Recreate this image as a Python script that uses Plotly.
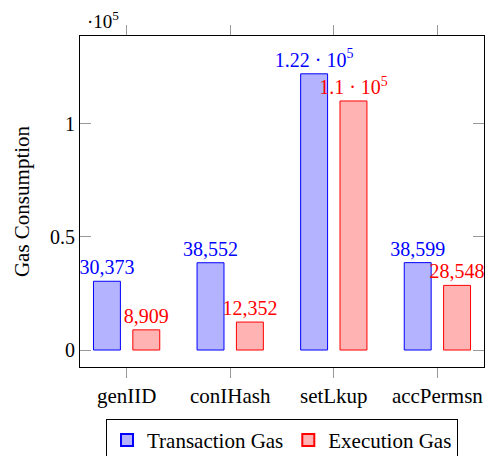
import plotly.graph_objects as go

# Gas consumed per contract operation
categories = ["genIID", "conIHash", "setLkup", "accPermsn"]
transaction_gas = [30373, 38552, 122000, 38599]
execution_gas = [8909, 12352, 110000, 28548]

y_tick_values = [0, 50000, 100000]
y_tick_labels = ["0", "0.5", "1"]

FONT = "Liberation Serif"
BLUE = "#0000ff"
RED = "#ff0000"


def value_label(v):
    """Thousands separator below 10^5, otherwise mantissa · 10^5."""
    if v >= 100000:
        mant = f"{v / 1e5:.2f}".rstrip("0").rstrip(".")
        return f"{mant} · 10<sup>5</sup>"
    return f"{v:,}"


x_pos = list(range(len(categories)))

fig = go.Figure()
fig.add_trace(go.Bar(
    name="Transaction Gas",
    x=x_pos, y=transaction_gas,
    width=0.26, offset=-0.32,
    marker=dict(color="rgb(179,179,255)", line=dict(color=BLUE, width=1)),
    text=[value_label(v) for v in transaction_gas],
    textposition="outside", constraintext="none", cliponaxis=False,
    textfont=dict(family=FONT, size=20, color=BLUE),
))
fig.add_trace(go.Bar(
    name="Execution Gas",
    x=x_pos, y=execution_gas,
    width=0.26, offset=0.06,
    marker=dict(color="rgb(255,179,179)", line=dict(color=RED, width=1)),
    text=[value_label(v) for v in execution_gas],
    textposition="outside", constraintext="none", cliponaxis=False,
    textfont=dict(family=FONT, size=20, color=RED),
))

fig.update_layout(
    width=488, height=456,
    margin=dict(l=80, r=4, t=36, b=89, autoexpand=False),
    barmode="overlay",
    plot_bgcolor="white", paper_bgcolor="white",
    font=dict(family=FONT, size=20, color="black"),
    showlegend=True,
    legend=dict(
        orientation="h",
        x=0.5, xanchor="center", y=-0.157, yanchor="top",
        bordercolor="black", borderwidth=1,
        font=dict(family=FONT, size=21, color="black"),
        itemsizing="constant",
    ),
    annotations=[dict(
        text="·10<sup>5</sup>", xref="paper", yref="paper",
        x=0.012, y=1, xanchor="left", yanchor="bottom", yshift=2,
        showarrow=False, font=dict(family=FONT, size=19, color="black"),
    )],
)

fig.update_xaxes(
    range=[-0.45, 3.45],
    tickvals=x_pos, ticktext=categories,
    tickfont=dict(family=FONT, size=21),
    ticks="outside", ticklen=10, tickcolor="#999999", tickwidth=1,
    showline=True, linecolor="black", linewidth=1, mirror="ticks",
    showgrid=False, zeroline=False,
)
fig.update_yaxes(
    range=[-7500, 138700],
    tickvals=y_tick_values, ticktext=y_tick_labels,
    ticks="inside", ticklen=11, tickcolor="#999999", tickwidth=1,
    showline=True, linecolor="black", linewidth=1, mirror="ticks",
    showgrid=False, zeroline=False,
    title=dict(text="Gas Consumption", standoff=14, font=dict(size=21)),
)

fig.write_html("out.html")
